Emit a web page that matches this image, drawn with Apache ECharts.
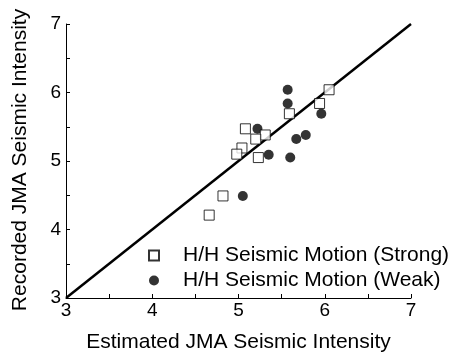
<!DOCTYPE html>
<html><head><meta charset="utf-8">
<script src="https://cdn.jsdelivr.net/npm/echarts@6/dist/echarts.min.js"></script>
<style>html,body{margin:0;padding:0;background:#fff}#c{width:449px;height:358px}</style>
</head><body><div id="c"></div>
<script>
var strongX = [6.05, 5.94, 5.59, 5.08, 5.31, 5.20, 5.04, 4.98, 5.23, 4.82, 4.66];
var strongY = [6.04, 5.84, 5.69, 5.47, 5.38, 5.32, 5.19, 5.10, 5.05, 4.49, 4.21];
var weakX = [5.57, 5.57, 5.96, 5.22, 5.78, 5.67, 5.35, 5.60, 5.05];
var weakY = [6.04, 5.84, 5.69, 5.47, 5.38, 5.32, 5.09, 5.05, 4.49];
var lineX = [3, 7];
var lineY = [3, 7];
var xTitle = 'Estimated JMA Seismic Intensity';
var yTitle = 'Recorded JMA Seismic Intensity';
var strongName = 'H/H Seismic Motion (Strong)';
var weakName = 'H/H Seismic Motion (Weak)';

function zip(a, b) { return a.map(function (v, i) { return [v, b[i]]; }); }
var font = 'Liberation Sans, Arial, Helvetica, sans-serif';
var chart = echarts.init(document.getElementById('c'), null, {renderer: 'canvas'});
var axisCommon = {
  type: 'value', min: 3, max: 7, interval: 1,
  axisLine: {show: true, lineStyle: {color: '#000', width: 1}},
  axisTick: {show: true, inside: true, length: 4, lineStyle: {color: '#000'}},
  minorTick: {show: true, splitNumber: 2, length: 4, lineStyle: {color: '#000'}},
  splitLine: {show: false},
  axisLabel: {color: '#000', fontSize: 19, fontFamily: font}
};
chart.setOption({
  animation: false,
  grid: {left: 66, right: 38, top: 24, bottom: 59},
  xAxis: Object.assign({}, axisCommon, {
    name: xTitle, nameLocation: 'middle', nameGap: 34,
    nameTextStyle: {color: '#000', fontSize: 21, fontFamily: font},
    axisLabel: Object.assign({}, axisCommon.axisLabel, {margin: 3})
  }),
  yAxis: Object.assign({}, axisCommon, {
    axisLabel: Object.assign({}, axisCommon.axisLabel, {margin: 5})
  }),
  legend: {
    orient: 'vertical', left: 148, top: 243, itemGap: 0, padding: 0,
    itemWidth: 10, itemHeight: 10,
    textStyle: {color: '#000', fontSize: 21, fontFamily: font, lineHeight: 25, padding: [0, 0, 0, 19]},
    data: [strongName, weakName]
  },
  graphic: [{
    type: 'text', x: 20, y: 160, rotation: Math.PI / 2,
    style: {text: yTitle, fill: '#000', font: '21px ' + font, align: 'center', verticalAlign: 'middle'}
  }],
  series: [
    {type: 'line', data: zip(lineX, lineY), symbol: 'none', silent: true,
     lineStyle: {color: '#000', width: 2.5}, z: 1},
    {name: strongName, type: 'scatter', data: zip(strongX, strongY), symbol: 'rect', symbolSize: 10,
     itemStyle: {color: '#fff', borderColor: '#000', borderWidth: 1}, z: 3},
    {name: weakName, type: 'scatter', data: zip(weakX, weakY), symbol: 'circle', symbolSize: 10,
     itemStyle: {color: '#000'}, z: 2}
  ]
});
</script></body></html>
